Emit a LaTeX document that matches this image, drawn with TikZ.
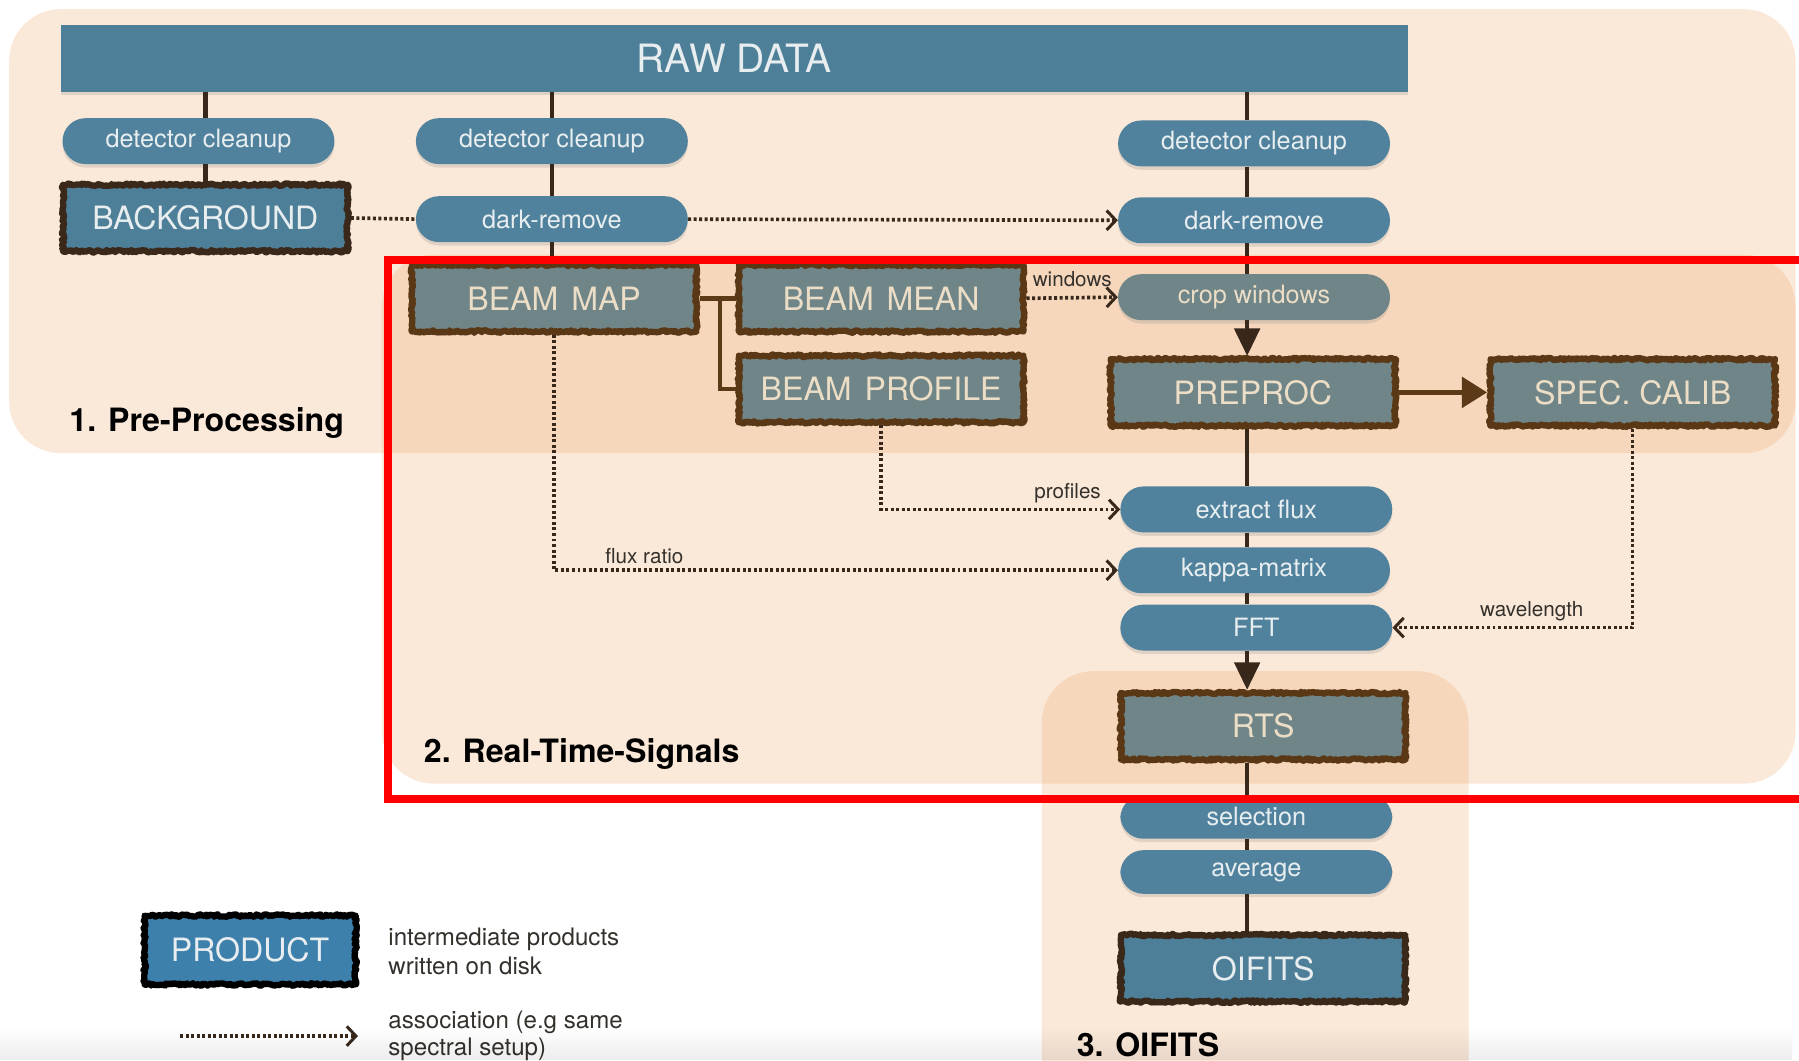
\documentclass[tikz,border=0pt]{standalone}
\usepackage{fontspec}
\setmainfont{TeX Gyre Heros}
\usetikzlibrary{arrows.meta, positioning, shadows, decorations.pathmorphing, fadings}

\definecolor{zonepeach}{RGB}{238,178,125}
\definecolor{stepblue}{RGB}{80,130,157}
\definecolor{prodblue}{RGB}{78,127,152}
\definecolor{fadegrey}{RGB}{111,133,136}
\definecolor{keyblue}{RGB}{62,128,172}
\definecolor{rimbrown}{RGB}{90,56,22}
\definecolor{rimdark}{RGB}{58,40,26}
\definecolor{linkdark}{RGB}{56,40,28}
\definecolor{linkbrown}{RGB}{92,58,23}
\definecolor{paletext}{RGB}{232,238,240}
\definecolor{creamtext}{RGB}{236,222,198}
\definecolor{notegrey}{RGB}{52,48,44}

\newcommand{\sized}[1]{\fontsize{#1}{#1}\selectfont}

\begin{document}
\begin{tikzpicture}[
        x = 1pt, y = -1pt,
        on grid,
        >= {Straight Barb[length = 8pt, width = 17pt, line width = 2.6pt]},
        zone/.style = {fill = zonepeach, fill opacity = 0.3, rounded corners = 45pt},
        shadowed/.style = {drop shadow = {shadow xshift = 0pt, shadow yshift = -3pt, opacity = 0.22}},
        process/.style = {rectangle, rounded corners = 20pt, fill = stepblue, text = paletext,
                          minimum width = 237pt, minimum height = 40pt, inner sep = 0pt,
                          font = \sized{22}, shadowed},
        product/.style = {rectangle, fill = prodblue, text = paletext, draw = rimbrown,
                          line width = 5.5pt, line join = round, minimum width = 248pt,
                          minimum height = 58pt, inner sep = 0pt, font = \sized{28}, shadowed,
                          decorate, decoration = {random steps, segment length = 1.5pt, amplitude = 1.1pt}},
        faded/.style = {fill = fadegrey, text = creamtext},
        trunk/.style = {draw = linkdark, line width = 4pt},
        branch/.style = {draw = linkbrown, line width = 4pt},
        flow/.style = {-{Triangle[length = 24pt, width = 22pt]}},
        assoc/.style = {draw = linkdark, line width = 3.2pt, dash pattern = on 2.6pt off 2.2pt, ->},
        note/.style = {text = notegrey, font = \sized{18}, inner sep = 4pt},
        stage/.style = {anchor = west, text = black, font = \sized{28}\bfseries}
    ]

    \clip (0,0) rectangle (1568,924);

    % the three stages
    \fill[zone] (8,8) rectangle (1565,395);
    \fill[zone] (333,222) rectangle (1565,683);
    \fill[zone] (908,585) rectangle (1280,990);

    \node[rectangle, fill = prodblue, text = paletext, minimum width = 1174pt,
          minimum height = 58pt, font = \sized{34}, shadowed] (raw) at (640,51) {RAW DATA};

    % background branch
    \node[process] (dc1) at (173,123) {detector cleanup};
    \node[product, draw = rimdark] (bg) at (179,190) {BACKGROUND};

    % beam branch
    \node[process] (dc2) at (481,123) {detector cleanup};
    \node[process] (dr2) [below = 68pt of dc2] {dark-remove};
    \node[product, faded] (map) at (483,260) {BEAM\hspace{0.4em}MAP};
    \node[product, faded] (mean) [right = 285pt of map] {BEAM\hspace{0.4em}MEAN};
    \node[product, faded] (prof) [below = 79pt of mean] {BEAM\hspace{0.4em}PROFILE};

    % science branch
    \coordinate (spine) at (1087,0);
    \node[process] (dc3) at (1093,125) {detector cleanup};
    \node[process] (dr3) [below = 67pt of dc3] {dark-remove};
    \node[process, faded] (crop) [below = 67pt of dr3] {crop windows};
    \node[product, faded] (pre) at (1092,342) {PREPROC};
    \node[product, faded] (spec) [right = 331pt of pre] {SPEC.\ CALIB};
    \node[process] (flux) at (1095,444) {extract flux};
    \node[process] (kappa) at (1093,497) {kappa-matrix};
    \node[process] (fft) at (1095,547) {FFT};
    \node[product, faded] (rts) at (1101,633) {RTS};
    \node[process, minimum height = 38pt] (sel) at (1095,712) {selection};
    \node[process, minimum height = 38pt] (avg) at (1095,760) {average};
    \node[product, draw = rimdark] (oifits) at (1101,844) {OIFITS};

    \draw[trunk] (raw.south -| bg) -- (dc1.north -| bg)
                 (dc1.south -| bg) -- (bg.north);
    \draw[trunk] (raw.south -| dc2) -- (dc2.north)
                 (dc2.south) -- (dr2.north)
                 (dr2.south) -- (map.north -| dr2);
    \draw[trunk] (raw.south -| spine) -- (dc3.north -| spine)
                 (dc3.south -| spine) -- (dr3.north -| spine)
                 (dr3.south -| spine) -- (crop.north -| spine);
    \draw[trunk, flow] (crop.south -| spine) -- (pre.north -| spine);
    \draw[trunk] (pre.south -| spine) -- (flux.north -| spine)
                 (flux.south -| spine) -- (kappa.north -| spine)
                 (kappa.south -| spine) -- (fft.north -| spine);
    \draw[trunk, flow] (fft.south -| spine) -- (rts.north -| spine);
    \draw[trunk] (rts.south -| spine) -- (sel.north -| spine)
                 (sel.south -| spine) -- (avg.north -| spine)
                 (avg.south -| spine) -- (oifits.north -| spine);

    \draw[branch] (map.east) -- coordinate[pos = 0.57] (fork) (mean.west);
    \draw[branch] (fork) |- (prof.west);
    \draw[branch, line width = 5pt, -{Triangle[length = 22pt, width = 26pt]}] (pre.east) -- (spec.west);

    % associations
    \draw[assoc, -] (bg.east) -- (dr2.west);
    \draw[assoc] (dr2.east) -- (dr3.west);
    \draw[assoc] (mean.east) -- node[note, above, yshift = 4pt] {windows} (crop.west);
    \draw[assoc] (map.south) |- node[note, above, pos = 0.58] {flux ratio} (kappa.west);
    \draw[assoc] (prof.south) |- node[note, above, pos = 0.89] {profiles} (flux.west);
    \draw[assoc] (spec.south) |- node[note, above, pos = 0.71] {wavelength} (fft.east);

    \node[stage] (pp) at (57,369) {1. Pre-Processing};
    \node[stage] (rt) at (366,657) {2. Real-Time-Signals};
    \node[stage] (oi) at (935,911) {3. OIFITS};

    % legend
    \node[product, fill = keyblue, draw = black, minimum width = 184pt,
          minimum height = 60pt] (key) at (218,828) {PRODUCT};
    \node[anchor = west, align = left, text = notegrey, font = \fontsize{21}{25}\selectfont]
          (keynote) at (335,829) {intermediate products\\written on disk};
    \coordinate (keyfrom) at (157,903);
    \coordinate (keyto) at (312,903);
    \draw[assoc] (keyfrom) -- (keyto);
    \node[anchor = west, align = left, text = notegrey, font = \fontsize{21}{24}\selectfont]
          (assocnote) at (335,903) {association (e.g same\\spectral setup)};

    % highlight frame
    \draw[red, line width = 7pt] (1590,227) -| (338,696) -- (1590,696);

    \fill[black, fill opacity = 0.07, path fading = north] (0,894) rectangle (1568,924);

\end{tikzpicture}
\end{document}
